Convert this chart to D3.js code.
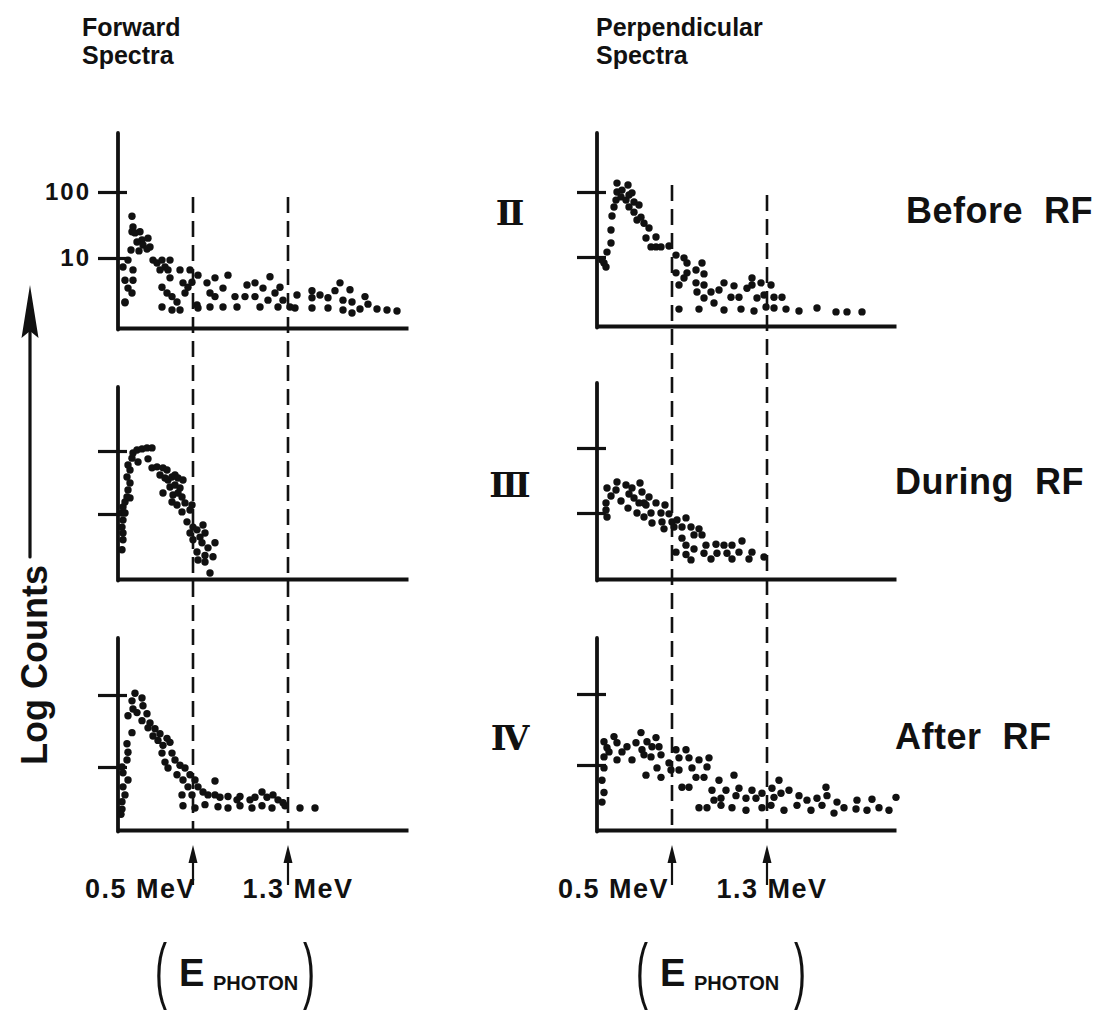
<!DOCTYPE html>
<html>
<head>
<meta charset="utf-8">
<script src="https://cdn.jsdelivr.net/npm/d3@7"></script>
<style>
  body { margin: 0; background: #fff; }
  svg { display: block; }
  text { font-family: "Liberation Sans", Arial, Helvetica, sans-serif; fill: #111; }
</style>
</head>
<body>
<svg id="chart" width="1110" height="1021"></svg>
<script>
// ---- data -------------------------------------------------------------
// Column headings, phase labels and the two photon-energy markers.
const columnTitles = [["Forward", "Spectra"], ["Perpendicular", "Spectra"]];
const phaseNumerals = ["Ⅱ", "Ⅲ", "Ⅳ"];
const phaseLabels = ["Before  RF", "During  RF", "After  RF"];
const markerLabels = ["0.5 MeV", "1.3 MeV"];
const markerChannels = [75, 170];          // channel of the 0.5 / 1.3 MeV lines
const countTicks = [10, 100];
const countTickLabels = ["10", "100"];

// Spectra: [channel, counts]
const forwardBefore = [[14,43],[15,29.5],[14,25],[17,24],[22,25],[24,18.7],[19,17.5],[30,20],[25,15.7],[32,14.7],[13,13.2],[21,12.8],[29,13.7],[35,9.3],[39,8.4],[44,9.3],[52,9.3],[47,7.3],[42,6.6],[50,6.6],[62,6.6],[72,6.6],[80,5.5],[52,5.0],[5,7.3],[10,9.3],[15,6.6],[7,4.6],[15,4.6],[10,3.5],[14,2.95],[7,2.1],[44,3.6],[49,2.95],[54,2.6],[59,2.15],[44,1.81],[54,1.63],[62,1.63],[65,4.2],[70,3.6],[67,2.95],[74,4.3],[79,1.94],[89,4.2],[97,5.0],[92,2.95],[97,2.6],[105,3.5],[110,5.5],[92,1.81],[105,1.81],[117,2.6],[119,1.81],[127,2.6],[129,3.9],[137,4.2],[137,2.6],[142,1.81],[145,3.5],[152,5.2],[150,2.3],[157,2.95],[162,3.6],[160,1.81],[165,2.3],[172,1.81],[179,2.75],[177,1.75],[194,3.2],[194,2.5],[194,1.75],[202,2.75],[210,2.5],[210,1.75],[217,3.2],[222,4.2],[225,2.3],[232,3.3],[234,2.15],[225,1.63],[234,1.47],[242,1.69],[247,2.6],[250,2.0],[259,1.69],[269,1.63],[279,1.57],[80,1.75],[7,2.15]];
const forwardDuring = [[4,10.4],[5,8.0],[4,6.2],[5,5.0],[5,3.9],[4,2.7],[7,10.4],[5,12.9],[7,15.5],[12,18],[9,18.6],[10,24],[12,31],[9,38.7],[12,50],[10,60],[14,77],[15,93],[19,104],[20,67],[24,108],[29,112],[34,112],[30,75],[34,54],[39,56],[42,41.6],[45,54],[49,50],[47,37.3],[50,34.7],[54,38.7],[57,41.6],[60,37.3],[65,34.7],[52,26.8],[57,28.9],[62,25.9],[45,21.5],[55,20],[60,21.5],[54,15.5],[59,13.9],[64,18.6],[67,15],[64,10.8],[72,11.6],[74,13.9],[69,7.5],[75,6.2],[72,5.0],[79,5.6],[85,6.7],[82,4.3],[87,5.0],[75,3.9],[84,3.5],[90,2.9],[97,3.5],[79,2.5],[87,2.2],[95,2.1],[80,1.86],[87,1.73],[92,1.16]];
const forwardAfter = [[17,106],[24,91],[14,83],[25,71],[15,64],[10,51.5],[19,57],[29,55],[24,44],[32,41],[30,35],[37,34],[14,30],[35,27],[42,29],[40,23.4],[49,25],[52,22],[45,20],[9,21],[10,16],[9,12.5],[4,10],[5,8.3],[10,6.6],[5,5.3],[7,4.1],[4,3.3],[44,15.6],[54,15.6],[47,11.7],[57,12.5],[62,10.6],[50,9.7],[67,9.7],[59,7.8],[72,7.8],[65,6.6],[77,6.6],[97,6.4],[70,5.3],[80,5.3],[64,4.1],[74,4.1],[85,4.5],[90,4.1],[97,4.1],[102,3.8],[110,3.9],[119,3.5],[122,3.9],[132,3.5],[137,3.8],[144,4.5],[149,3.8],[155,4.1],[160,3.5],[165,3.2],[65,2.9],[77,2.7],[87,3.0],[100,2.8],[110,2.7],[122,2.9],[134,2.7],[144,2.9],[154,2.7],[167,2.9],[182,2.7],[197,2.7],[4,2.6],[3,2.2]];
const perpBefore = [[7,8.1],[9,7.0],[5,9.0],[10,11.9],[14,16.4],[14,26],[15,42.7],[17,58.7],[19,75],[20,100],[20,137],[24,84],[25,107],[29,75],[31,128],[32,90],[35,97],[37,70],[32,59],[37,49],[42,63],[44,41],[40,37],[47,33],[52,28],[49,19.6],[59,20.3],[54,14.3],[59,14.3],[64,14.3],[72,14.8],[79,10.7],[87,9.7],[90,8.1],[79,5.7],[90,5.7],[87,4.75],[82,3.7],[82,1.58],[99,6.3],[105,8.1],[107,5.5],[99,4.0],[100,2.9],[107,3.7],[107,2.34],[114,2.9],[122,3.1],[127,4.0],[137,3.6],[134,2.4],[142,2.4],[150,3.3],[155,4.75],[155,3.7],[164,4.0],[160,2.34],[167,2.6],[174,3.7],[177,2.4],[185,2.4],[169,1.7],[117,1.96],[102,1.58],[127,1.53],[144,1.58],[157,1.48],[177,1.64],[189,1.58],[202,1.48],[220,1.64],[239,1.43],[250,1.43],[265,1.43]];
const perpDuring = [[9,11.1],[10,8.7],[9,14.3],[10,24.3],[14,18.3],[19,22.6],[20,30],[24,15.3],[29,27],[32,19.6],[35,24.3],[31,11.9],[37,17],[40,10],[43,29],[45,21],[47,14.3],[42,14.3],[52,17.6],[49,13.3],[54,10],[47,8.7],[59,14.3],[55,7.0],[64,10],[65,7.3],[68,13.3],[72,9.7],[67,5.7],[75,7.3],[77,6.1],[80,7.8],[89,8.4],[85,6.1],[94,6.1],[102,5.7],[85,4.1],[97,4.6],[105,4.6],[89,3.2],[97,2.8],[79,2.5],[89,2.3],[94,1.9],[109,3.2],[107,2.4],[114,1.96],[119,3.3],[120,2.4],[127,3.2],[130,2.4],[135,3.2],[135,1.96],[142,2.5],[145,3.7],[155,2.5],[152,1.96],[167,2.1]];
const perpAfter = [[7,21.3],[10,17.5],[7,13],[7,9.1],[5,6.1],[7,4.1],[5,3.0],[17,25.1],[20,20.6],[12,15.3],[20,11.8],[25,15.3],[30,18.1],[35,11.8],[39,20.6],[44,28.6],[45,16.4],[50,21.3],[47,13.9],[49,7.2],[54,13],[55,18.1],[59,24.3],[62,18.1],[64,13.9],[60,9.1],[64,6.7],[72,10.7],[74,8.5],[79,16.4],[82,12.6],[82,8.5],[89,16.4],[92,12.6],[95,9.1],[85,4.85],[92,4.85],[102,11.8],[99,6.7],[110,9.4],[112,12.6],[107,6.7],[122,6.1],[115,4.4],[117,3.2],[124,3.4],[129,4.4],[137,7.2],[142,4.7],[139,3.7],[149,3.4],[155,4.4],[159,3.4],[165,4.0],[175,4.7],[177,3.5],[182,6.1],[184,4.0],[192,4.4],[202,3.7],[210,3.2],[220,3.4],[229,4.85],[230,3.7],[240,3.0],[260,3.2],[275,3.3],[299,3.5],[102,2.5],[110,2.5],[124,2.7],[135,2.5],[165,2.5],[174,2.7],[200,2.7],[225,2.7],[247,2.5],[259,2.4],[282,2.5],[149,2.3],[187,2.3],[214,2.3],[237,2.1],[270,2.3],[292,2.3]];

const spectra = [
  [forwardBefore, perpBefore],
  [forwardDuring, perpDuring],
  [forwardAfter, perpAfter]
];

// ---- layout -----------------------------------------------------------
const columns = [
  { axisX: 118, lastChannel: 290, titleX: 82, dashTop: [197, 197],
    labelAnchor: ["end", "middle"], labelDx: [3, 10], photonX: 155 },
  { axisX: 597, lastChannel: 299, titleX: 596, dashTop: [185, 195],
    labelAnchor: ["end", "middle"], labelDx: [-3, 5], photonX: 636 }
];
// per row, per column: axis top, baseline and the pixel rows of the 10 / 100 ticks
const panels = [
  [{ top: 133, base: 328, y10: 258, y100: 192 }, { top: 133, base: 326, y10: 257, y100: 192 }],
  [{ top: 387, base: 579, y10: 514, y100: 451 }, { top: 383, base: 579, y10: 513, y100: 448 }],
  [{ top: 638, base: 830, y10: 767, y100: 695 }, { top: 638, base: 830, y10: 765, y100: 694 }]
];
const rowText = [
  { numeralY: 225, labelY: 223, labelX: 906 },
  { numeralY: 497, labelY: 494, labelX: 895 },
  { numeralY: 750, labelY: 749, labelX: 895 }
];
const dashBottom = 830;
const dotR = 3.7;

const svg = d3.select("#chart");

// column headings
columns.forEach((col, c) => {
  svg.append("text")
    .attr("font-size", 25).attr("font-weight", "bold")
    .selectAll("tspan").data(columnTitles[c]).join("tspan")
    .attr("x", col.titleX).attr("y", (d, i) => 36 + i * 28)
    .text(d => d);
});

// panels
panels.forEach((row, r) => {
  row.forEach((p, c) => {
    const col = columns[c];
    const x = d3.scaleLinear().domain([0, col.lastChannel]).range([col.axisX, col.axisX + col.lastChannel]);
    const y = d3.scaleLog().domain([10, 100]).range([p.y10, p.y100]);
    const g = svg.append("g");

    // count ticks crossing the vertical axis
    const yAxis = d3.axisLeft(y)
      .tickValues(countTicks)
      .tickSize(29)
      .tickPadding(7)
      .tickFormat((d, i) => (r === 0 && c === 0) ? countTickLabels[i] : "");
    const ya = g.append("g").attr("transform", `translate(${col.axisX + 9},0)`).call(yAxis);
    ya.select(".domain").remove();
    ya.selectAll(".tick line").attr("stroke", "#111").attr("stroke-width", 3.2);
    ya.selectAll(".tick text")
      .attr("font-family", "\"Liberation Sans\", Arial, sans-serif")
      .attr("font-size", 24).attr("font-weight", "bold")
      .attr("letter-spacing", 2).attr("fill", "#111");

    // vertical axis line
    g.append("line")
      .attr("x1", col.axisX).attr("x2", col.axisX)
      .attr("y1", p.top).attr("y2", p.base + 1.5)
      .attr("stroke", "#111").attr("stroke-width", 3.8).attr("stroke-linecap", "round");

    // energy axis
    const xAxis = d3.axisBottom(x).tickValues([]).tickSizeOuter(0);
    const xa = g.append("g").attr("transform", `translate(0,${p.base})`).call(xAxis);
    xa.select(".domain").attr("stroke", "#111").attr("stroke-width", 3.8);

    // data points
    g.append("g").selectAll("circle")
      .data(spectra[r][c]).join("circle")
      .attr("cx", d => x(d[0]))
      .attr("cy", d => y(d[1]))
      .attr("r", dotR)
      .attr("fill", "#111");
  });

  // roman numeral and phase label
  svg.append("text")
    .attr("x", 510).attr("y", rowText[r].numeralY)
    .attr("text-anchor", "middle")
    .attr("font-size", 34).attr("font-weight", "bold")
    .style("font-family", "\"DejaVu Serif\", \"Liberation Serif\", serif")
    .text(phaseNumerals[r]);
  svg.append("text")
    .attr("x", rowText[r].labelX).attr("y", rowText[r].labelY)
    .attr("font-size", 36).attr("font-weight", "bold")
    .attr("letter-spacing", 0.5)
    .style("white-space", "pre")
    .text(phaseLabels[r]);
});

// dashed energy lines, arrows and energy labels
columns.forEach((col, c) => {
  const x = d3.scaleLinear().domain([0, col.lastChannel]).range([col.axisX, col.axisX + col.lastChannel]);
  markerChannels.forEach((ch, i) => {
    const xm = x(ch);
    svg.append("line")
      .attr("x1", xm).attr("x2", xm)
      .attr("y1", col.dashTop[i]).attr("y2", dashBottom)
      .attr("stroke", "#111").attr("stroke-width", 2.6)
      .attr("stroke-dasharray", "16 8");
    // arrow pointing up at the line
    svg.append("line")
      .attr("x1", xm).attr("x2", xm).attr("y1", 858).attr("y2", 885)
      .attr("stroke", "#111").attr("stroke-width", 2.2);
    svg.append("path")
      .attr("d", `M${xm},845 L${xm - 4.5},863 L${xm + 4.5},863 Z`)
      .attr("fill", "#111");
    svg.append("text")
      .attr("x", xm + col.labelDx[i]).attr("y", 898)
      .attr("text-anchor", col.labelAnchor[i])
      .attr("font-size", 27).attr("font-weight", "bold")
      .attr("letter-spacing", 1.5)
      .text(markerLabels[i]);
  });

  // (E PHOTON)
  const px = col.photonX;
  const pg = svg.append("g");
  const paren = (xp, ch) => pg.append("text").attr("x", xp).attr("y", 995)
    .attr("font-size", 72).attr("font-weight", "normal")
    .attr("transform", `translate(${xp},995) scale(0.5,1) translate(${-xp},-995)`)
    .text(ch);
  paren(px, "(");
  pg.append("text").attr("x", px + 24).attr("y", 986)
    .attr("font-size", 38).attr("font-weight", "bold").text("E");
  pg.append("text").attr("x", px + 58).attr("y", 990)
    .attr("font-size", 20).attr("font-weight", "bold").text("PHOTON");
  paren(px + (c === 0 ? 148 : 158), ")");
});

// "Log Counts" with its upward arrow
svg.append("text")
  .attr("transform", "translate(47,765) rotate(-90)")
  .attr("font-size", 36).attr("font-weight", "bold")
  .text("Log Counts");
svg.append("line")
  .attr("x1", 30).attr("x2", 30).attr("y1", 557).attr("y2", 330)
  .attr("stroke", "#111").attr("stroke-width", 3.2).attr("stroke-linecap", "round");
svg.append("path")
  .attr("d", "M30,285 L21.5,338 L30,331 L38.5,338 Z")
  .attr("fill", "#111");
</script>
</body>
</html>
